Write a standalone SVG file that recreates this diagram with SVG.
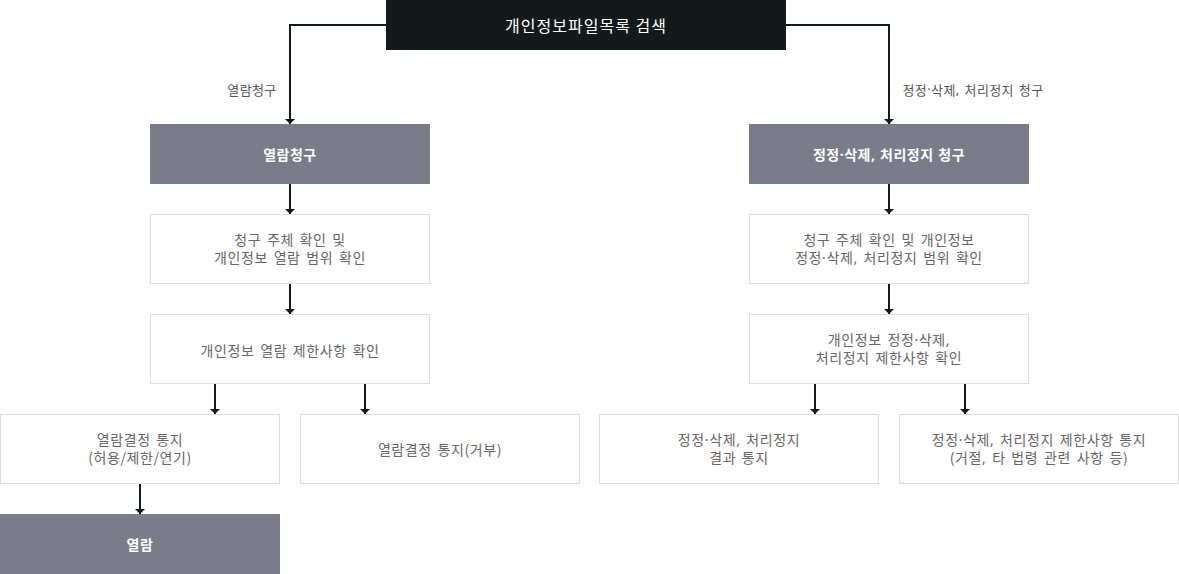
<svg xmlns="http://www.w3.org/2000/svg" width="1179" height="574" viewBox="0 0 1179 574">
<style>
text{font-family:"Noto Sans CJK KR","Noto Sans",sans-serif;text-anchor:middle;dominant-baseline:central}
.d{font-family:"Noto Sans",sans-serif}
.dark{fill:#131a1c}
.gray{fill:#7b7c8a}
.box{fill:#ffffff;stroke:#dddddd;stroke-width:1}
.t{font-size:14px;fill:#666666;letter-spacing:0.6px;word-spacing:2px}
.w{font-size:14px;fill:#ffffff;font-weight:bold;letter-spacing:0.5px;word-spacing:1px}
.lbl{font-size:13px;fill:#555555;letter-spacing:0.4px;word-spacing:1.5px}
.c{fill:none;stroke:#131a1c;stroke-width:2;marker-end:url(#ah)}
</style>
<defs>
<marker id="ah" viewBox="0 0 5 10" refX="5" refY="5" markerWidth="5" markerHeight="10" markerUnits="userSpaceOnUse" orient="auto">
<path d="M0,0 L5,5 L0,10 z" fill="#131a1c"/>
</marker>
</defs>
<g id="connectors">
<path class="c" d="M387,25 H290 V124"/>
<path class="c" d="M785,25 H889 V124"/>
<path class="c" d="M290,184 V214"/>
<path class="c" d="M290,284 V314"/>
<path class="c" d="M215,384 V414"/>
<path class="c" d="M365,384 V414"/>
<path class="c" d="M140,484 V514"/>
<path class="c" d="M889,184 V214"/>
<path class="c" d="M889,284 V314"/>
<path class="c" d="M815,384 V414"/>
<path class="c" d="M965,384 V414"/>
<text class="lbl" x="252" y="89">열람청구</text>
<text class="lbl" x="973" y="89">정정<tspan class="d">·</tspan>삭제<tspan class="d">,</tspan> 처리정지 청구</text>
</g>
<g id="n-search">
<rect class="dark" x="386" y="0" width="400" height="50"/>
<text x="586" y="25" style="font-size:16px;fill:#ffffff;letter-spacing:1px">개인정보파일목록 검색</text>
</g>
<g id="n-read-req">
<rect class="gray" x="150" y="124" width="280" height="60"/>
<text class="w" x="290" y="154">열람청구</text>
</g>
<g id="n-read-check1">
<rect class="box" x="150.5" y="214.5" width="279" height="69"/>
<text class="t" x="290" y="239">청구 주체 확인 및</text>
<text class="t" x="290" y="257">개인정보 열람 범위 확인</text>
</g>
<g id="n-read-check2">
<rect class="box" x="150.5" y="314.5" width="279" height="69"/>
<text class="t" x="290" y="350">개인정보 열람 제한사항 확인</text>
</g>
<g id="n-read-ok">
<rect class="box" x="0.5" y="414.5" width="279" height="69"/>
<text class="t" x="140" y="439">열람결정 통지</text>
<text class="t" x="140" y="457">(허용/제한/연기)</text>
</g>
<g id="n-read-deny">
<rect class="box" x="300.5" y="414.5" width="279" height="69"/>
<text class="t" x="440" y="449">열람결정 통지(거부)</text>
</g>
<g id="n-read">
<rect class="gray" x="0" y="514" width="280" height="60"/>
<text class="w" x="140" y="544">열람</text>
</g>
<g id="n-fix-req">
<rect class="gray" x="749" y="124" width="280" height="60"/>
<text class="w" x="889" y="154">정정<tspan class="d">·</tspan>삭제<tspan class="d">,</tspan> 처리정지 청구</text>
</g>
<g id="n-fix-check1">
<rect class="box" x="749.5" y="214.5" width="279" height="69"/>
<text class="t" x="889" y="239">청구 주체 확인 및 개인정보</text>
<text class="t" x="889" y="257">정정<tspan class="d">·</tspan>삭제<tspan class="d">,</tspan> 처리정지 범위 확인</text>
</g>
<g id="n-fix-check2">
<rect class="box" x="749.5" y="314.5" width="279" height="69"/>
<text class="t" x="889" y="339">개인정보 정정<tspan class="d">·</tspan>삭제<tspan class="d">,</tspan></text>
<text class="t" x="889" y="357">처리정지 제한사항 확인</text>
</g>
<g id="n-fix-result">
<rect class="box" x="599.5" y="414.5" width="279" height="69"/>
<text class="t" x="739" y="439">정정<tspan class="d">·</tspan>삭제<tspan class="d">,</tspan> 처리정지</text>
<text class="t" x="739" y="457">결과 통지</text>
</g>
<g id="n-fix-deny">
<rect class="box" x="899.5" y="414.5" width="279" height="69"/>
<text class="t" x="1039" y="439">정정<tspan class="d">·</tspan>삭제<tspan class="d">,</tspan> 처리정지 제한사항 통지</text>
<text class="t" x="1039" y="457">(거절<tspan class="d">,</tspan> 타 법령 관련 사항 등)</text>
</g>
</svg>
